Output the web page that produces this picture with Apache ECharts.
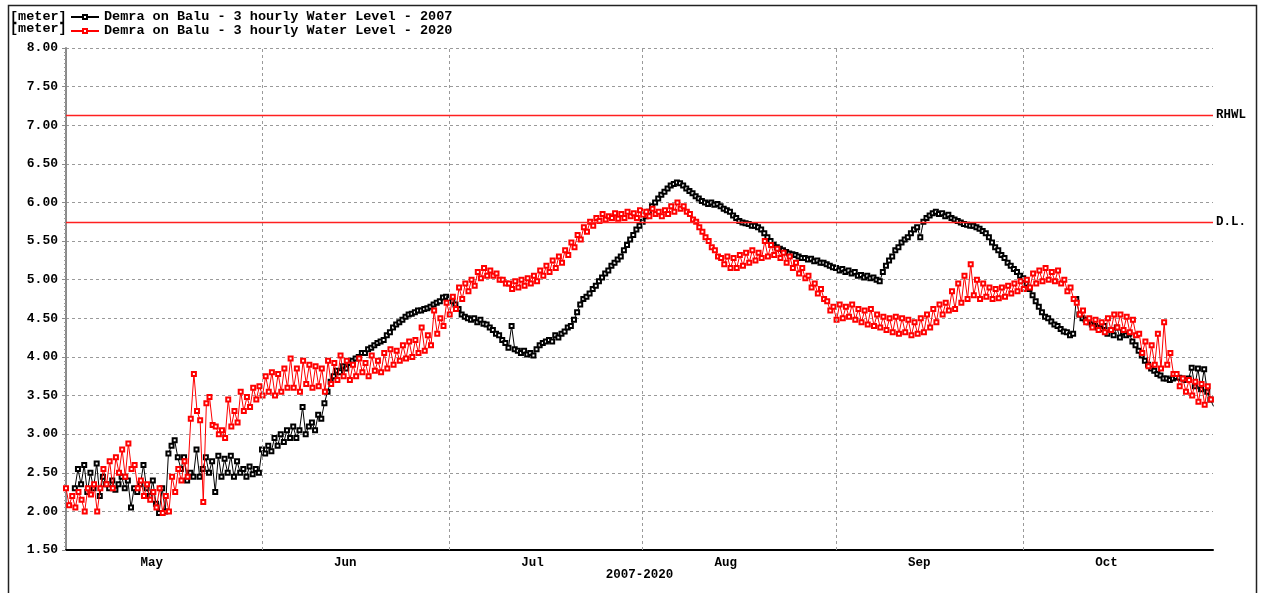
<!DOCTYPE html>
<html><head><meta charset="utf-8">
<script src="https://cdn.jsdelivr.net/npm/echarts@6/dist/echarts.min.js"></script>
<style>html,body{margin:0;padding:0;background:#fff}#c{width:1263px;height:593px}</style>
</head><body><div id="c"></div>
<script>
// ---- data ----
const seriesNames = ['Demra on Balu - 3 hourly Water Level - 2007', 'Demra on Balu - 3 hourly Water Level - 2020'];
const unitLabel = '[meter]';
// 12-hourly readings, 2007 starting 2 May 00:00
const level2007 = [
2.30,2.55, 2.35,2.60, 2.25,2.50, 2.30,2.62, 2.20,2.45, 2.35,2.30, 2.40,2.28, 2.35,2.45, 2.30,2.40, 2.05,2.30,
2.25,2.35, 2.60,2.30, 2.20,2.40, 2.10,1.98, 2.30,2.00, 2.75,2.85, 2.92,2.70, 2.55,2.70, 2.40,2.50, 2.45,2.80,
2.45,2.55, 2.70,2.50, 2.65,2.25, 2.72,2.45, 2.68,2.50, 2.72,2.45, 2.65,2.50, 2.55,2.45, 2.58,2.48, 2.55,2.50,
2.80,2.75, 2.85,2.78, 2.95,2.85, 3.00,2.90, 3.05,2.95, 3.10,2.95, 3.05,3.35, 3.00,3.10, 3.15,3.05, 3.25,3.20,
3.40,3.55, 3.68,3.75, 3.82,3.80, 3.88,3.85, 3.92,3.95, 3.98,4.00, 4.05,4.05, 4.10,4.12, 4.15,4.18, 4.20,4.22,
4.28,4.32, 4.38,4.42, 4.45,4.48, 4.52,4.55, 4.56,4.58, 4.60,4.60, 4.62,4.63, 4.65,4.68, 4.70,4.72, 4.77,4.78,
4.75,4.72, 4.68,4.62, 4.55,4.52, 4.50,4.48, 4.50,4.45, 4.48,4.43, 4.42,4.38, 4.35,4.30, 4.28,4.22, 4.18,4.12,
4.40,4.10, 4.08,4.05, 4.08,4.03, 4.05,4.02, 4.10,4.15, 4.18,4.20, 4.22,4.20, 4.28,4.25, 4.30,4.33, 4.38,4.40,
4.48,4.58, 4.68,4.75, 4.78,4.82, 4.88,4.92, 4.98,5.03, 5.08,5.12, 5.18,5.22, 5.26,5.30, 5.38,5.45, 5.52,5.58,
5.65,5.70, 5.75,5.82, 5.88,5.95, 6.00,6.05, 6.10,6.14, 6.18,6.22, 6.24,6.26, 6.25,6.22, 6.18,6.15, 6.12,6.08,
6.05,6.02, 6.00,5.98, 6.00,5.97, 5.98,5.95, 5.92,5.90, 5.88,5.83, 5.80,5.76, 5.74,5.73, 5.72,5.70, 5.70,5.68,
5.65,5.60, 5.55,5.50, 5.45,5.42, 5.40,5.38, 5.36,5.34, 5.33,5.32, 5.30,5.28, 5.28,5.26, 5.27,5.24, 5.25,5.22,
5.22,5.20, 5.18,5.16, 5.15,5.12, 5.14,5.10, 5.12,5.08, 5.10,5.05, 5.06,5.03, 5.05,5.02, 5.03,5.00, 4.98,5.10,
5.18,5.25, 5.30,5.38, 5.42,5.48, 5.52,5.55, 5.60,5.65, 5.68,5.55, 5.75,5.80, 5.83,5.86, 5.88,5.85, 5.86,5.82,
5.84,5.80, 5.78,5.76, 5.74,5.72, 5.71,5.70, 5.70,5.68, 5.66,5.63, 5.60,5.55, 5.48,5.42, 5.38,5.32, 5.28,5.22,
5.18,5.14, 5.10,5.05, 5.02,4.95, 4.88,4.80, 4.72,4.65, 4.58,4.52, 4.50,4.46, 4.42,4.40, 4.36,4.33, 4.32,4.28,
4.30,4.75, 4.55,4.50, 4.48,4.45, 4.42,4.40, 4.38,4.36, 4.40,4.30, 4.35,4.28, 4.38,4.25, 4.32,4.28, 4.30,4.20,
4.15,4.08, 4.02,3.95, 3.90,3.85, 3.82,3.78, 3.76,3.72, 3.72,3.70, 3.72,3.74, 3.73,3.72, 3.70,3.72, 3.86,3.62,
3.85,3.58, 3.84,3.55, 3.45,3.36
];
// 12-hourly readings, 2020 starting 30 Apr 14:00
const level2020 = [
2.30,2.08, 2.20,2.05, 2.25,2.15, 2.00,2.30, 2.22,2.35, 2.00,2.30, 2.55,2.35, 2.65,2.30, 2.70,2.50, 2.80,2.45,
2.88,2.55, 2.60,2.30, 2.40,2.20, 2.35,2.15, 2.25,2.05, 2.30,1.98, 2.20,2.00, 2.45,2.25, 2.55,2.40, 2.65,2.45,
3.20,3.78, 3.30,3.18, 2.12,3.40, 3.48,3.12, 3.10,3.00, 3.05,2.95, 3.45,3.10, 3.30,3.15, 3.55,3.30, 3.48,3.35,
3.60,3.45, 3.62,3.50, 3.75,3.55, 3.80,3.50, 3.78,3.55, 3.85,3.60, 3.98,3.60, 3.85,3.55, 3.95,3.65, 3.90,3.60,
3.88,3.62, 3.85,3.55, 3.95,3.65, 3.92,3.70, 4.02,3.75, 3.95,3.70, 3.90,3.75, 3.98,3.80, 3.92,3.75, 4.02,3.82,
3.95,3.80, 4.05,3.85, 4.10,3.90, 4.08,3.95, 4.15,3.98, 4.20,4.00, 4.22,4.05, 4.38,4.08, 4.28,4.15, 4.60,4.30,
4.50,4.40, 4.70,4.55, 4.78,4.62, 4.90,4.75, 4.95,4.85, 5.00,4.92, 5.10,5.02, 5.15,5.05, 5.12,5.05, 5.08,5.00,
5.00,4.95, 4.95,4.88, 4.98,4.90, 5.00,4.92, 5.02,4.95, 5.05,4.98, 5.12,5.05, 5.18,5.10, 5.25,5.15, 5.30,5.22,
5.38,5.32, 5.48,5.42, 5.58,5.52, 5.68,5.62, 5.75,5.70, 5.80,5.76, 5.85,5.78, 5.82,5.80, 5.86,5.79, 5.85,5.80,
5.88,5.82, 5.86,5.80, 5.90,5.84, 5.88,5.82, 5.92,5.85, 5.88,5.82, 5.90,5.85, 5.95,5.88, 6.00,5.92, 5.95,5.88,
5.85,5.78, 5.75,5.68, 5.62,5.55, 5.50,5.42, 5.38,5.30, 5.28,5.20, 5.30,5.15, 5.28,5.15, 5.32,5.18, 5.35,5.22,
5.38,5.25, 5.35,5.28, 5.50,5.30, 5.45,5.32, 5.40,5.28, 5.35,5.22, 5.30,5.15, 5.22,5.08, 5.15,5.02, 5.05,4.90,
4.95,4.82, 4.88,4.75, 4.72,4.60, 4.65,4.48, 4.68,4.50, 4.65,4.52, 4.68,4.48, 4.62,4.45, 4.60,4.42, 4.62,4.40,
4.55,4.38, 4.52,4.35, 4.50,4.32, 4.52,4.30, 4.50,4.32, 4.48,4.28, 4.45,4.30, 4.50,4.32, 4.55,4.38, 4.62,4.45,
4.68,4.55, 4.70,4.60, 4.85,4.62, 4.95,4.70, 5.05,4.75, 5.20,4.80, 5.00,4.75, 4.95,4.78, 4.90,4.75, 4.88,4.76,
4.90,4.78, 4.92,4.82, 4.95,4.85, 4.98,4.88, 5.00,4.90, 5.08,4.95, 5.12,4.98, 5.15,5.00, 5.10,4.98, 5.12,4.95,
5.00,4.85, 4.90,4.75, 4.70,4.55, 4.60,4.45, 4.50,4.38, 4.48,4.35, 4.45,4.32, 4.50,4.35, 4.55,4.38, 4.55,4.35,
4.52,4.32, 4.48,4.28, 4.30,4.05, 4.20,3.88, 4.15,3.90, 4.30,3.85, 4.45,3.90, 4.05,3.78, 3.78,3.62, 3.72,3.55,
3.70,3.50, 3.68,3.42, 3.65,3.38, 3.62,3.45
];
const start2007 = Date.UTC(2020, 4, 2, 0);
const start2020 = Date.UTC(2020, 3, 30, 14);
const stepMs = 12 * 3600 * 1000;
const xMin = Date.UTC(2020, 3, 30, 14);
const xMax = Date.UTC(2020, 9, 31, 10);
const monthLabels = ['May', 'Jun', 'Jul', 'Aug', 'Sep', 'Oct'];
const monthLabelDays = [14, 14, 14, 14, 14, 14];
const monthStartMonths = [5, 6, 7, 8, 9]; // Jun..Oct (0-based months)
const yMin = 1.5, yMax = 8.0, yStep = 0.5;
const refLineNames = ['RHWL', 'D.L.'];
const refLineValues = [7.13, 5.75];

// ---- build ----
const toPairs = (arr, t0) => arr.map((v, i) => [t0 + i * stepMs, v]);
const labelTimes = monthLabels.map((m, i) => Date.UTC(2020, 4 + i, monthLabelDays[i], 8));
const monthStartTimes = monthStartMonths.map(m => Date.UTC(2020, m, 1, 0));
const FONT = '"Liberation Mono", "DejaVu Sans Mono", monospace';
const REFRED = '#ff2020';

const chart = echarts.init(document.getElementById('c'), null, {renderer: 'canvas'});
chart.setOption({
  animation: false,
  backgroundColor: '#fff',
  grid: {left: 66, right: 50, top: 48, bottom: 43, containLabel: false},
  legend: {
    orient: 'vertical', left: 70, top: 10, itemGap: 0, padding: 0,
    itemWidth: 28, itemHeight: 5,
    selectedMode: false,
    textStyle: {fontFamily: FONT, fontWeight: 'bold', fontSize: 13.5, color: '#000', lineHeight: 12},
    data: seriesNames
  },
  graphic: [
    {type: 'rect', shape: {x: 8.5, y: 5.5, width: 1248, height: 620}, style: {fill: 'none', stroke: '#222', lineWidth: 1.5}, silent: true, z: 0},
    {type: 'text', left: 10, top: 10, style: {text: unitLabel, font: 'bold 13.5px ' + FONT, fill: '#000'}},
    {type: 'text', left: 10, top: 22, style: {text: unitLabel, font: 'bold 13.5px ' + FONT, fill: '#000'}}
  ],
  xAxis: {
    type: 'value', min: xMin, max: xMax,
    name: '2007-2020', nameLocation: 'middle', nameGap: 18, nameMoveOverlap: false,
    nameTextStyle: {fontFamily: FONT, fontWeight: 'bold', fontSize: 12.5, color: '#000'},
    axisLine: {show: true, lineStyle: {color: '#000', width: 2}},
    axisTick: {show: false},
    splitLine: {show: false},
    axisLabel: {
      customValues: labelTimes,
      margin: 6,
      fontFamily: FONT, fontWeight: 'bold', fontSize: 12.5, color: '#000',
      formatter: (v) => monthLabels[new Date(v).getUTCMonth() - 4] || ''
    }
  },
  yAxis: {
    type: 'value', min: yMin, max: yMax, interval: yStep,
    axisLine: {show: true, lineStyle: {color: '#8a8a8a', width: 2}},
    axisTick: {show: true, length: 4, lineStyle: {color: '#8a8a8a'}},
    minorTick: {show: true, splitNumber: 10, length: 2, lineStyle: {color: '#9a9a9a'}},
    splitLine: {show: true, lineStyle: {color: '#9a9a9a', type: [3, 3], width: 1}},
    axisLabel: {margin: 8, fontFamily: FONT, fontWeight: 'bold', fontSize: 13, color: '#000',
      formatter: (v) => v.toFixed(2)}
  },
  series: [
    {
      name: '__grid', type: 'line', data: [], z: 1, silent: true,
      markLine: {
        silent: true, symbol: ['none', 'none'], animation: false,
        label: {show: false},
        lineStyle: {color: '#9a9a9a', type: [3, 3], width: 1},
        data: monthStartTimes.map(t => ({xAxis: t}))
      }
    },
    {
      name: seriesNames[0], type: 'line', data: toPairs(level2007, start2007),
      symbol: 'emptyRect', symbolSize: 4, showSymbol: true,
      lineStyle: {color: '#000', width: 1}, itemStyle: {color: '#000', borderWidth: 1},
      z: 3
    },
    {
      name: seriesNames[1], type: 'line', data: toPairs(level2020, start2020),
      symbol: 'emptyRect', symbolSize: 4, showSymbol: true,
      lineStyle: {color: '#ff0000', width: 1}, itemStyle: {color: '#ff0000', borderWidth: 1},
      z: 4
    },
    {
      name: '__ref', type: 'line', data: [], z: 5, silent: true,
      markLine: {
        silent: true, symbol: ['none', 'none'], animation: false,
        lineStyle: {color: REFRED, type: 'solid', width: 1.3},
        label: {show: true, position: 'end', distance: 3, color: '#000',
          fontFamily: FONT, fontWeight: 'bold', fontSize: 12.5,
          formatter: (p) => p.name},
        data: refLineValues.map((v, i) => ({name: refLineNames[i], yAxis: v}))
      }
    }
  ]
});
</script>
</body></html>
